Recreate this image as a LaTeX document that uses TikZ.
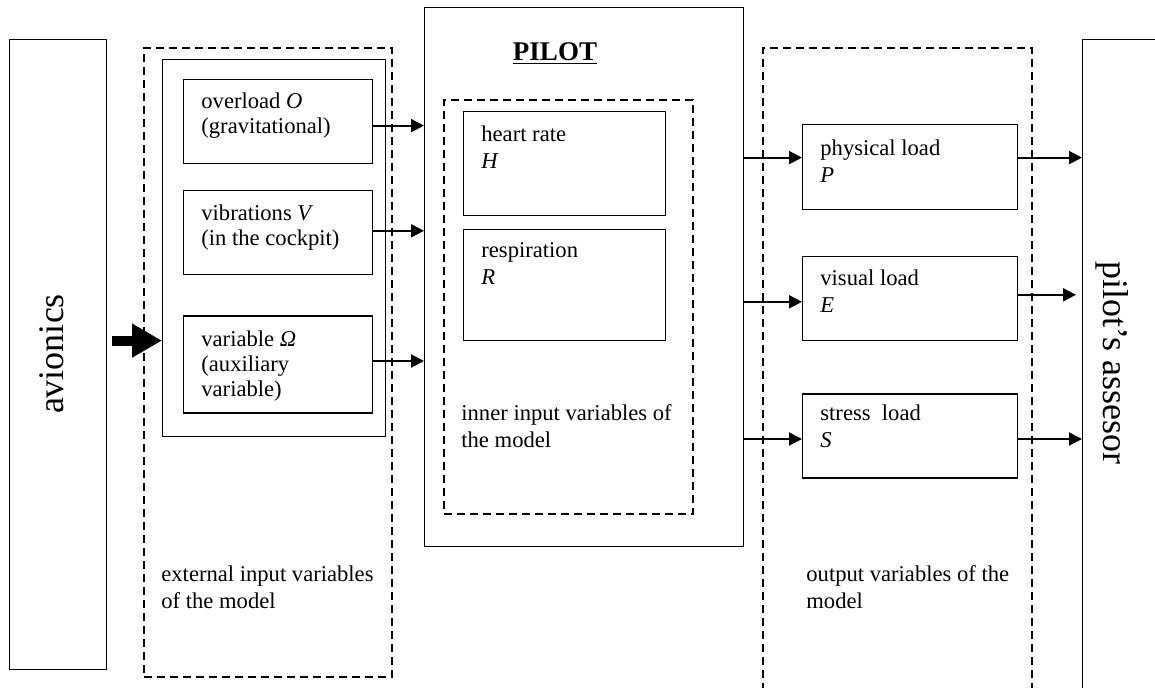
\documentclass[tikz,border=0pt]{standalone}
\usepackage{fontspec}
\setmainfont{Liberation Serif}
\usepackage{tikz}
\usetikzlibrary{arrows.meta,positioning}

\begin{document}
\begin{tikzpicture}[x=0.5pt,y=-0.5pt,>={Triangle[length=6.5pt,width=6.5pt]},
  box/.style={draw, line width=0.6pt, anchor=north west, inner sep=0pt},
  grp/.style={draw, line width=1pt, dash pattern=on 4pt off 2.5pt, anchor=north west, inner sep=0pt},
  txt/.style={anchor=base west, align=left, inner sep=0pt, font=\fontsize{11.3}{13.5}\selectfont},
  tight/.style={txt, font=\fontsize{11.3}{12.5}\selectfont},
  big/.style={inner sep=0pt, font=\fontsize{18}{20}\selectfont},
  link/.style={->, line width=1pt}]
\useasboundingbox (0,0) rectangle (1155,687);
\clip (0,0) rectangle (1155,687);

\node[box, minimum width=48.5pt, minimum height=315pt] (avi) at (9,39) {};
\node[big, rotate=90] (aviT) at (52,354) {avionics};

\node[grp, minimum width=124pt, minimum height=314.5pt] (ext) at (143,47) {};
\node[box, minimum width=111.5pt, minimum height=188.5pt] (extin) at (162,59) {};
\node[box, minimum width=94.5pt, minimum height=42pt] (over) at (183,79) {};
\node[box, minimum width=94.5pt, minimum height=42pt, below=13pt of over] (vib) {};
\node[box, minimum width=94.5pt, minimum height=48.5pt, below=20pt of vib] (omg) {};
\node[tight] (overT) at (201,133) {overload \textit{O}\\(gravitational)};
\node[tight] (vibT) at (201,245) {vibrations \textit{V}\\(in the cockpit)};
\node[tight] (omgT) at (201,396) {variable \textit{Ω}\\(auxiliary\\variable)};
\node[txt] (extT) at (161,608) {external input variables\\of the model};

\node[box, minimum width=159.5pt, minimum height=269.5pt] (pilot) at (424,7) {};
\node[anchor=base, inner sep=0pt, font=\fontsize{13.5}{16}\selectfont\bfseries] (title) at (555,60) {\underline{PILOT}};
\node[grp, minimum width=124.5pt, minimum height=207pt] (inner) at (443,99) {};
\node[box, minimum width=101pt, minimum height=52pt] (heart) at (463,111) {};
\node[box, minimum width=101pt, minimum height=55.5pt, below=6.5pt of heart] (resp) {};
\node[txt] (heartT) at (481,168) {heart rate\\\textit{H}};
\node[txt] (respT) at (481,284) {respiration\\\textit{R}};
\node[txt] (innerT) at (461,447) {inner input variables of\\the model};

\node[grp, minimum width=134.5pt, minimum height=336.5pt] (out) at (762,47) {};
\node[box, minimum width=107.5pt, minimum height=42.5pt] (phys) at (802,124) {};
\node[box, minimum width=107.5pt, minimum height=42pt, below=23pt of phys] (vis) {};
\node[box, minimum width=107.5pt, minimum height=42pt, below=26pt of vis] (str) {};
\node[txt] (physT) at (820,182) {physical load\\\textit{P}};
\node[txt] (visT) at (820,312) {visual load\\\textit{E}};
\node[txt] (strT) at (820,447) {stress~ load\\\textit{S}};
\node[txt] (outT) at (806,608) {output variables of the\\model};

\node[box, minimum width=59pt, minimum height=340.5pt] (ass) at (1082,39) {};
\node[big, rotate=-90] (assT) at (1112,363) {pilot’s assesor};

\draw[line width=5pt, -{Triangle[length=15pt,width=16pt]}] ([xshift=2.5pt,yshift=7pt]avi.east) -- ([yshift=7pt]avi.east -| extin.west);
\draw[link] ([yshift=-2pt]over.east) -- ([yshift=-2pt]over.east -| pilot.west);
\draw[link] ([yshift=1pt]vib.east) -- ([yshift=1pt]vib.east -| pilot.west);
\draw[link] ([yshift=1.75pt]omg.east) -- ([yshift=1.75pt]omg.east -| pilot.west);
\draw[link] ([yshift=4.75pt]phys.west -| pilot.east) -- ([yshift=4.75pt]phys.west);
\draw[link] ([yshift=-1.5pt]vis.west -| pilot.east) -- ([yshift=-1.5pt]vis.west);
\draw[link] ([yshift=-1.5pt]str.west -| pilot.east) -- ([yshift=-1.5pt]str.west);
\draw[link] ([yshift=4.75pt]phys.east) -- ([yshift=4.75pt]phys.east -| ass.west);
\draw[link, shorten >=3pt] ([yshift=2pt]vis.east) -- ([yshift=2pt]vis.east -| ass.west);
\draw[link] ([yshift=-1.5pt]str.east) -- ([yshift=-1.5pt]str.east -| ass.west);
\end{tikzpicture}
\end{document}
